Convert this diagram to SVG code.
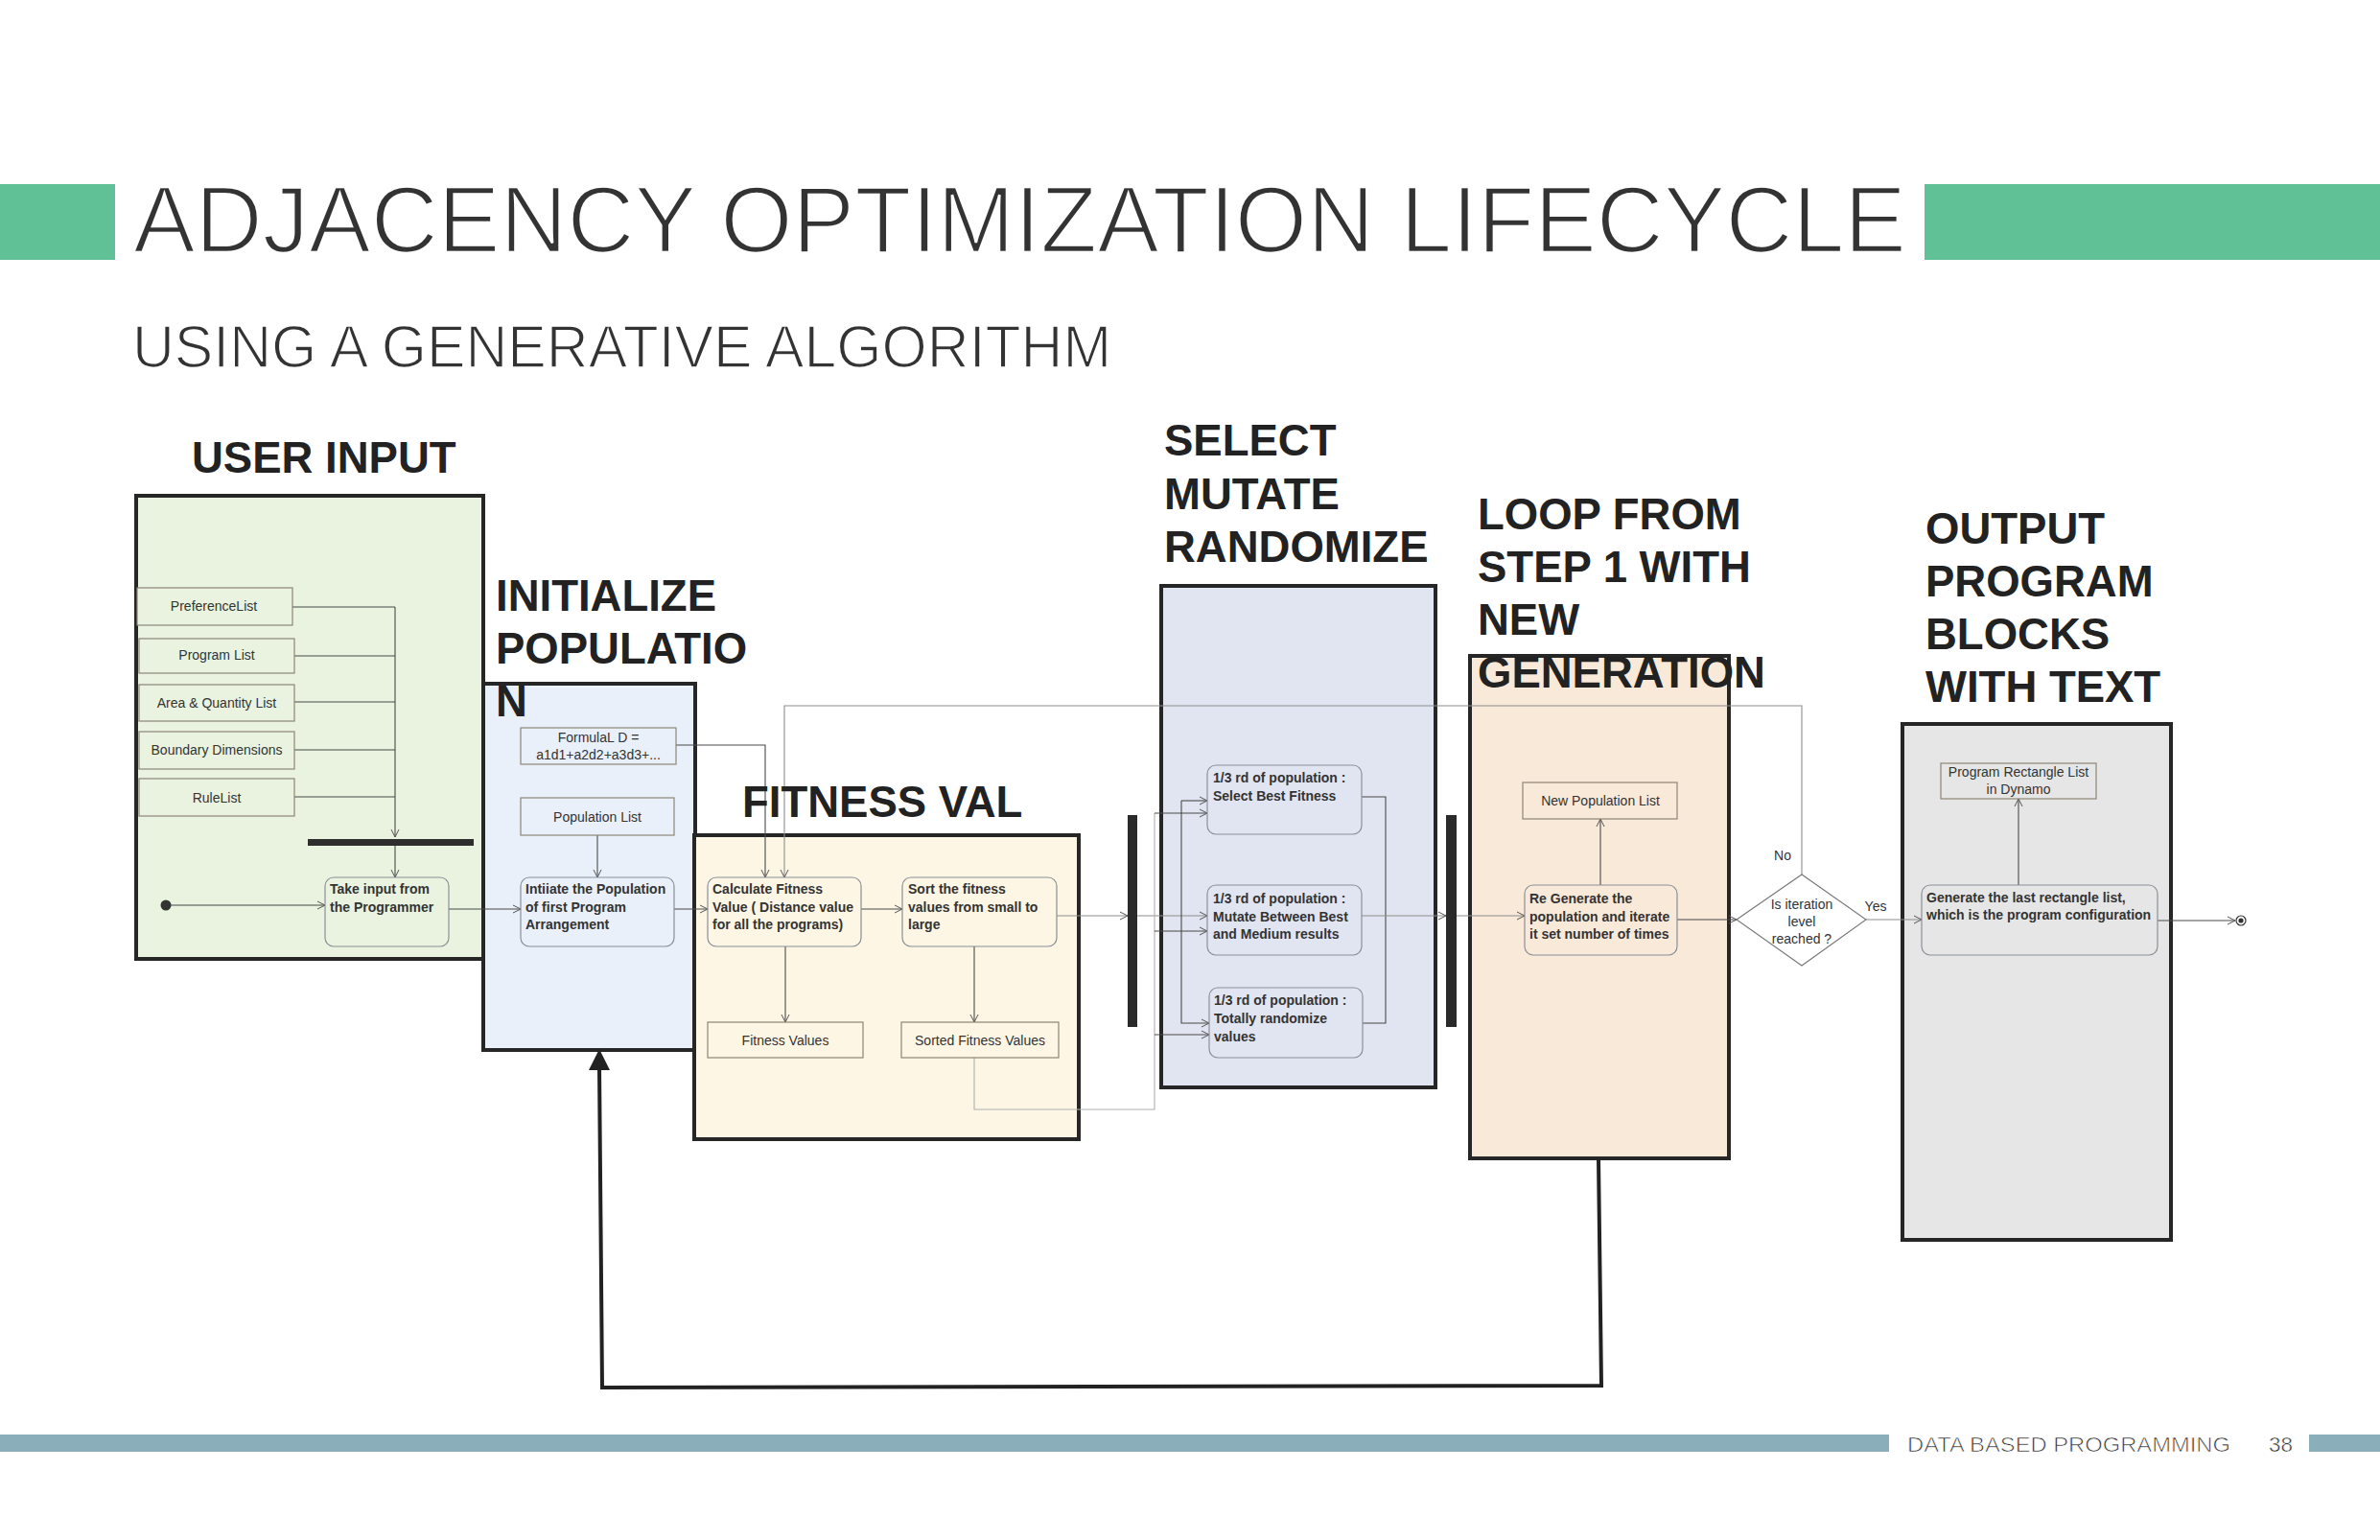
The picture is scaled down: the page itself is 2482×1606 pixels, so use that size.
<svg xmlns="http://www.w3.org/2000/svg" width="2482" height="1606" viewBox="0 0 2482 1606">
<style>
.frame{stroke:#262626;stroke-width:4}
.rn{stroke:#8a8f98;stroke-width:1.2}
.db{stroke:#8c8576;stroke-width:1.2}
.t{font-family:"Liberation Sans",Arial,sans-serif;font-size:14px;fill:#333}
.b{font-weight:bold}
.m{text-anchor:middle}
.h{font-family:"Liberation Sans",Arial,sans-serif;font-size:45.5px;font-weight:bold;fill:#222}
.c{stroke:#4a4a4a;stroke-width:1.1;fill:none}
.g{stroke:#8e8e8e;stroke-width:1.1;fill:none}
.lg{stroke:#b0b0b0;stroke-width:1.1;fill:none}
.thin{font-family:"Liberation Sans",Arial,sans-serif;fill:#333;stroke:#fff}
</style>
<defs>
<marker id="ah" markerWidth="10" markerHeight="10" refX="9" refY="5" orient="auto" markerUnits="userSpaceOnUse">
<path d="M1,1 L9,5 L1,9" fill="none" stroke="#555" stroke-width="1"/>
</marker>
</defs>
<rect width="2482" height="1606" fill="#fff"/>
<!-- header -->
<rect x="0" y="192" width="120" height="79" fill="#5fc195"/>
<rect x="2007" y="192" width="475" height="79" fill="#5fc195"/>
<text class="thin" x="139" y="263" font-size="98" stroke-width="2.6" textLength="1849" lengthAdjust="spacingAndGlyphs">ADJACENCY OPTIMIZATION LIFECYCLE</text>
<text class="thin" x="138" y="383" font-size="63" stroke-width="1.6" textLength="1021" lengthAdjust="spacingAndGlyphs">USING A GENERATIVE ALGORITHM</text>
<!-- footer -->
<rect x="0" y="1496" width="1970" height="18" fill="#8aafba"/>
<rect x="2408" y="1496" width="74" height="18" fill="#8aafba"/>
<text class="thin" x="1989" y="1514" font-size="22" stroke-width="0.7" textLength="337" lengthAdjust="spacingAndGlyphs">DATA BASED PROGRAMMING</text>
<text class="thin" x="2366" y="1514" font-size="22" stroke-width="0.5" textLength="25" lengthAdjust="spacingAndGlyphs">38</text>

<!-- frames -->
<g id="frame-user-input"><rect class="frame" x="142" y="517" width="362" height="483" fill="#e9f3df"/></g>
<g id="frame-initialize"><rect class="frame" x="504" y="713" width="221" height="382" fill="#e9f0fa"/></g>
<g id="frame-fitness"><rect class="frame" x="724" y="871" width="401" height="317" fill="#fdf6e4"/></g>
<g id="frame-select"><rect class="frame" x="1211" y="611" width="286" height="523" fill="#e1e5f1"/></g>
<g id="frame-loop"><rect class="frame" x="1533" y="684" width="270" height="524" fill="#f9e9d9"/></g>
<g id="frame-output"><rect class="frame" x="1984" y="755" width="280" height="538" fill="#e6e6e6"/></g>

<!-- connectors -->
<g id="connectors">
<path class="c" d="M305,633 H412 M307,684 H412 M307,732 H412 M307,782 H412 M307,831 H412"/>
<path class="c" d="M412,633 V873" marker-end="url(#ah)"/>
<path class="c" d="M412,882 V915" marker-end="url(#ah)"/>
<path class="c" d="M173,944 H339" marker-end="url(#ah)"/>
<path class="c" d="M468,948 H543" marker-end="url(#ah)"/>
<path class="c" d="M623,871 V915" marker-end="url(#ah)"/>
<path class="c" d="M705,777 H798 V915" marker-end="url(#ah)"/>
<path class="c" d="M703,948 H738" marker-end="url(#ah)"/>
<path class="c" d="M898,948 H941" marker-end="url(#ah)"/>
<path class="c" d="M819,987 V1066" marker-end="url(#ah)"/>
<path class="c" d="M1016,987 V1066" marker-end="url(#ah)"/>
<path class="g" d="M1102,955 H1176" marker-end="url(#ah)"/>
<path class="g" d="M1186,955 H1259" marker-end="url(#ah)"/>
<path class="c" d="M1232,955 V835"/>
<path class="c" d="M1232,835 H1259" marker-end="url(#ah)"/>
<path class="c" d="M1232,955 V1067 H1261" marker-end="url(#ah)"/>
<path class="lg" d="M1016,1103 V1157 H1204 V848"/>
<path class="c" d="M1204,848 H1259" marker-end="url(#ah)"/>
<path class="c" d="M1204,971 H1259" marker-end="url(#ah)"/>
<path class="c" d="M1204,1079 H1261" marker-end="url(#ah)"/>
<path class="c" d="M1420,831 H1445 V1067 H1421"/>
<path class="g" d="M1420,955 H1508" marker-end="url(#ah)"/>
<path class="g" d="M1519,955 H1590" marker-end="url(#ah)"/>
<path class="c" d="M1669,923 V854" marker-end="url(#ah)"/>
<path class="c" d="M1749,959 H1811" marker-end="url(#ah)"/>
<path class="g" d="M1879,912 V736 H818 V915" marker-end="url(#ah)"/>
<path class="g" d="M1946,959 H2004" marker-end="url(#ah)"/>
<path class="c" d="M2105,923 V833" marker-end="url(#ah)"/>
<path class="c" d="M2250,960 H2331" marker-end="url(#ah)"/>
<path d="M1667,1208 L1670,1445 L628,1447 L625,1112" fill="none" stroke="#222" stroke-width="4"/>
<polygon points="625,1094 614,1116 636,1116" fill="#222"/>
</g>

<!-- sync bars -->
<g id="bar-join"><rect x="321" y="875" width="173" height="7" fill="#2e2e2e"/></g>
<g id="bar-fork"><rect x="1176" y="850" width="10" height="221" fill="#2a2a2a"/></g>
<g id="bar-join2"><rect x="1508" y="850" width="11" height="221" fill="#2a2a2a"/></g>

<!-- start/end -->
<g id="start"><circle cx="173" cy="944" r="5.5" fill="#333"/></g>
<g id="end"><circle cx="2337" cy="960" r="5" fill="#fff" stroke="#333" stroke-width="1.2"/><circle cx="2337" cy="960" r="2.6" fill="#333"/></g>

<!-- user input nodes -->
<g id="n-pref"><rect class="db" x="143" y="613" width="162" height="39" fill="#e9f3df"/><text class="t m" x="223" y="637">PreferenceList</text></g>
<g id="n-prog"><rect class="db" x="145" y="666" width="162" height="36" fill="#e9f3df"/><text class="t m" x="226" y="688">Program List</text></g>
<g id="n-area"><rect class="db" x="145" y="714" width="162" height="38" fill="#e9f3df"/><text class="t m" x="226" y="738">Area &amp; Quantity List</text></g>
<g id="n-bound"><rect class="db" x="145" y="763" width="162" height="39" fill="#e9f3df"/><text class="t m" x="226" y="787">Boundary Dimensions</text></g>
<g id="n-rule"><rect class="db" x="145" y="812" width="162" height="39" fill="#e9f3df"/><text class="t m" x="226" y="837">RuleList</text></g>
<g id="n-take"><rect class="rn" x="339" y="915" width="129" height="72" rx="9" fill="#e9f3df"/><text class="t b" x="344" y="932">Take input from</text><text class="t b" x="344" y="951">the Programmer</text></g>

<!-- initialize nodes -->
<g id="n-formula"><rect class="db" x="543" y="759" width="162" height="38" fill="#e9f0fa"/><text class="t m" x="624" y="774">FormulaL D =</text><text class="t m" x="624" y="792">a1d1+a2d2+a3d3+...</text></g>
<g id="n-poplist"><rect class="db" x="543" y="832" width="160" height="39" fill="#e9f0fa"/><text class="t m" x="623" y="857">Population List</text></g>
<g id="n-init"><rect class="rn" x="543" y="915" width="160" height="72" rx="9" fill="#e9f0fa"/><text class="t b" x="548" y="932">Intiiate the Population</text><text class="t b" x="548" y="951">of first Program</text><text class="t b" x="548" y="969">Arrangement</text></g>

<!-- fitness nodes -->
<g id="n-calc"><rect class="rn" x="738" y="915" width="160" height="72" rx="9" fill="#fdf6e4"/><text class="t b" x="743" y="932">Calculate Fitness</text><text class="t b" x="743" y="951">Value ( Distance value</text><text class="t b" x="743" y="969">for all the programs)</text></g>
<g id="n-sort"><rect class="rn" x="941" y="915" width="161" height="72" rx="9" fill="#fdf6e4"/><text class="t b" x="947" y="932">Sort the fitness</text><text class="t b" x="947" y="951">values from small to</text><text class="t b" x="947" y="969">large</text></g>
<g id="n-fitvals"><rect class="db" x="738" y="1066" width="162" height="37" fill="#fdf6e4"/><text class="t m" x="819" y="1090">Fitness Values</text></g>
<g id="n-sorted"><rect class="db" x="940" y="1066" width="164" height="37" fill="#fdf6e4"/><text class="t m" x="1022" y="1090">Sorted Fitness Values</text></g>

<!-- select nodes -->
<g id="n-best"><rect class="rn" x="1259" y="798" width="161" height="72" rx="9" fill="#e1e5f1"/><text class="t b" x="1265" y="816">1/3 rd of population :</text><text class="t b" x="1265" y="835">Select Best Fitness</text></g>
<g id="n-mutate"><rect class="rn" x="1259" y="923" width="161" height="73" rx="9" fill="#e1e5f1"/><text class="t b" x="1265" y="942">1/3 rd of population :</text><text class="t b" x="1265" y="961">Mutate Between Best</text><text class="t b" x="1265" y="979">and Medium results</text></g>
<g id="n-random"><rect class="rn" x="1261" y="1030" width="160" height="73" rx="9" fill="#e1e5f1"/><text class="t b" x="1266" y="1048">1/3 rd of population :</text><text class="t b" x="1266" y="1067">Totally randomize</text><text class="t b" x="1266" y="1086">values</text></g>

<!-- loop nodes -->
<g id="n-newpop"><rect class="db" x="1588" y="816" width="161" height="38" fill="#f9e9d9"/><text class="t m" x="1669" y="840">New Population List</text></g>
<g id="n-regen"><rect class="rn" x="1590" y="923" width="159" height="73" rx="9" fill="#f9e9d9"/><text class="t b" x="1595" y="942">Re Generate the</text><text class="t b" x="1595" y="961">population and iterate</text><text class="t b" x="1595" y="979">it set number of times</text></g>

<!-- decision -->
<g id="n-decision"><polygon points="1811,959 1879,912 1946,959 1879,1007" fill="#fff" stroke="#777" stroke-width="1.1"/><text class="t m" x="1879" y="948" font-size="13">Is iteration</text><text class="t m" x="1879" y="966" font-size="13">level</text><text class="t m" x="1879" y="984" font-size="13">reached ?</text></g>
<text class="t m" x="1859" y="897" font-size="17">No</text>
<text class="t m" x="1956" y="950" font-size="17">Yes</text>

<!-- output nodes -->
<g id="n-rectlist"><rect class="db" x="2024" y="796" width="162" height="37" fill="#e6e6e6"/><text class="t m" x="2105" y="810">Program Rectangle List</text><text class="t m" x="2105" y="828">in Dynamo</text></g>
<g id="n-generate"><rect class="rn" x="2004" y="923" width="246" height="73" rx="9" fill="#e6e6e6"/><text class="t b" x="2009" y="941">Generate the last rectangle list,</text><text class="t b" x="2009" y="959">which is the program configuration</text></g>

<!-- headings -->
<g id="headings">
<text class="h" x="200" y="493">USER INPUT</text>
<text class="h" x="517" y="637">INITIALIZE</text>
<text class="h" x="517" y="692">POPULATIO</text>
<text class="h" x="517" y="747">N</text>
<text class="h" x="774" y="852">FITNESS VAL</text>
<text class="h" x="1214" y="475">SELECT</text>
<text class="h" x="1214" y="531">MUTATE</text>
<text class="h" x="1214" y="586">RANDOMIZE</text>
<text class="h" x="1541" y="552">LOOP FROM</text>
<text class="h" x="1541" y="607">STEP 1 WITH</text>
<text class="h" x="1541" y="662">NEW</text>
<text class="h" x="1541" y="717">GENERATION</text>
<text class="h" x="2008" y="567">OUTPUT</text>
<text class="h" x="2008" y="622">PROGRAM</text>
<text class="h" x="2008" y="677">BLOCKS</text>
<text class="h" x="2008" y="732">WITH TEXT</text>
</g>
</svg>
